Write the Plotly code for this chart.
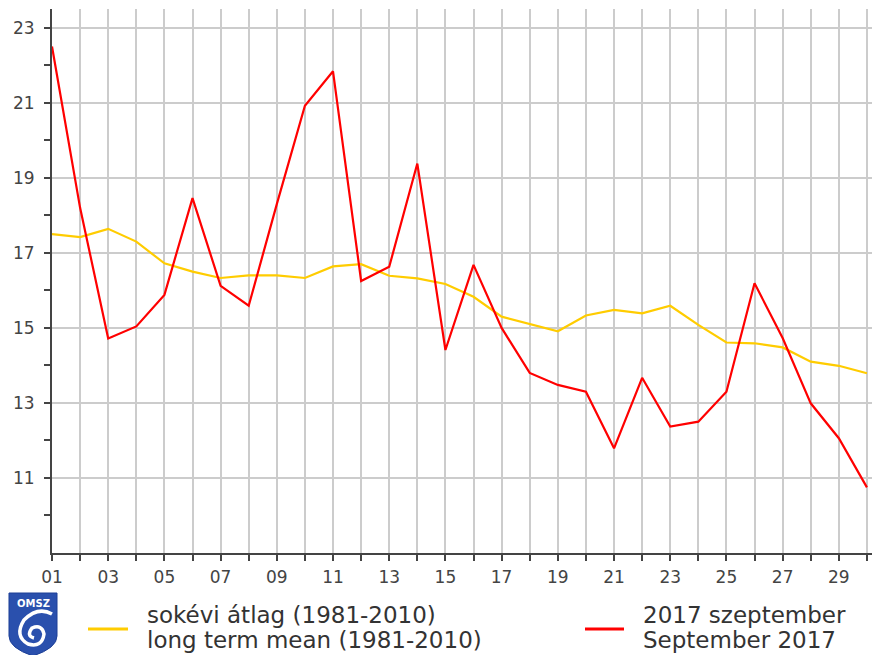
import plotly.graph_objects as go

# ---- data ----
days = list(range(1, 31))
day_labels = [f"{d:02d}" if d % 2 == 1 else "" for d in days]
long_term_mean = [17.50, 17.42, 17.64, 17.30, 16.72, 16.50, 16.33, 16.40, 16.40, 16.33,
                  16.64, 16.70, 16.39, 16.32, 16.17, 15.83, 15.30, 15.11, 14.91, 15.33,
                  15.48, 15.39, 15.59, 15.08, 14.61, 14.59, 14.48, 14.10, 13.99, 13.79]
sept_2017 = [22.50, 18.20, 14.72, 15.04, 15.88, 18.46, 16.12, 15.59, 18.30, 20.92,
             21.84, 16.25, 16.63, 19.38, 14.41, 16.68, 15.00, 13.80, 13.48, 13.30,
             11.79, 13.67, 12.37, 12.50, 13.30, 16.19, 14.73, 12.99, 12.06, 10.75]
y_ticks = [11, 13, 15, 17, 19, 21, 23]
legend_mean = ["sokévi átlag (1981-2010)", "long term mean (1981-2010)"]
legend_2017 = ["2017 szeptember", "September 2017"]

W, H = 872, 655
L, R, T, B = 52, 0, 9, 102
PW, PH = W - L - R, H - T - B

def px(xp):
    return (xp - L) / PW

def py(yp):
    return (H - B - yp) / PH

YELLOW = "#ffcc00"
RED = "#ff0000"
GRID = "#cccccc"
AXIS = "#444444"
FONT = "DejaVu Sans"

fig = go.Figure()
fig.add_trace(go.Scatter(x=days, y=long_term_mean, mode="lines",
                         line=dict(color=YELLOW, width=2.2), name=legend_mean[1]))
fig.add_trace(go.Scatter(x=days, y=sept_2017, mode="lines",
                         line=dict(color=RED, width=2.2), name=legend_2017[1]))

fig.update_layout(
    width=W, height=H,
    margin=dict(l=L, r=R, t=T, b=B, pad=0, autoexpand=False),
    paper_bgcolor="white", plot_bgcolor="white",
    showlegend=False,
    font=dict(family=FONT, color="#444444", size=17),
)
fig.update_xaxes(
    range=[1, 30.18], tickmode="array", tickvals=days, ticktext=day_labels,
    showgrid=True, gridcolor=GRID, gridwidth=2,
    showline=True, linecolor=AXIS, linewidth=2,
    ticks="outside", ticklen=6, tickwidth=2, tickcolor=AXIS,
    zeroline=False, tickfont=dict(size=17, color="#444444"),
    automargin=False, ticklabelstandoff=2,
)
fig.update_yaxes(
    range=[9, 23.5], tickmode="array", tickvals=y_ticks,
    showgrid=True, gridcolor=GRID, gridwidth=2,
    showline=True, linecolor=AXIS, linewidth=2,
    ticks="outside", ticklen=6, tickwidth=2, tickcolor=AXIS,
    zeroline=False, tickfont=dict(size=17, color="#444444"),
    ticklabelstandoff=6, automargin=False,
    minor=dict(tickmode="linear", tick0=10, dtick=2, ticks="outside", ticklen=6,
               tickwidth=2, tickcolor=AXIS, showgrid=False),
)

# ---- custom legend ----
shapes = []
annotations = []
shapes.append(dict(type="line", xref="paper", yref="paper",
                   x0=px(88), x1=px(128), y0=py(629), y1=py(629),
                   line=dict(color=YELLOW, width=3)))
shapes.append(dict(type="line", xref="paper", yref="paper",
                   x0=px(585), x1=px(624), y0=py(629), y1=py(629),
                   line=dict(color=RED, width=3)))
for i, txt in enumerate(legend_mean):
    annotations.append(dict(text=txt, xref="paper", yref="paper", x=px(145), y=py(615 + 25 * i),
                            xanchor="left", yanchor="middle", showarrow=False,
                            font=dict(family=FONT, size=23, color="#333333")))
for i, txt in enumerate(legend_2017):
    annotations.append(dict(text=txt, xref="paper", yref="paper", x=px(641), y=py(615 + 25 * i),
                            xanchor="left", yanchor="middle", showarrow=False,
                            font=dict(family=FONT, size=23, color="#333333")))

# ---- logo (shield) ----
def P(x, y):
    return f"{px(x):.5f},{py(y):.5f}"

shield = (f"M {P(9,593)} L {P(57,593)} L {P(57,636)} "
          f"Q {P(57,648)} {P(33,656)} Q {P(9,648)} {P(9,636)} Z")
shapes.append(dict(type="path", xref="paper", yref="paper", path=shield,
                   fillcolor="#2a50ad", line=dict(color="#1d3f96", width=1)))
swirl = (f"M {P(52,614)} Q {P(38,606)} {P(24,620)} Q {P(14,636)} {P(28,644)} "
         f"Q {P(42,648)} {P(44,634)} Q {P(42,624)} {P(32,628)} Q {P(26,636)} {P(34,638)}")
shapes.append(dict(type="path", xref="paper", yref="paper", path=swirl,
                   line=dict(color="white", width=3.5)))
annotations.append(dict(text="<b>OMSZ</b>", xref="paper", yref="paper", x=px(33), y=py(603),
                        xanchor="center", yanchor="middle", showarrow=False,
                        font=dict(family=FONT, size=10, color="white")))

fig.update_layout(shapes=shapes, annotations=annotations)
fig.write_html("out.html", config={"displayModeBar": False},
               post_script="document.body.style.margin='0';document.body.style.overflow='hidden';")
